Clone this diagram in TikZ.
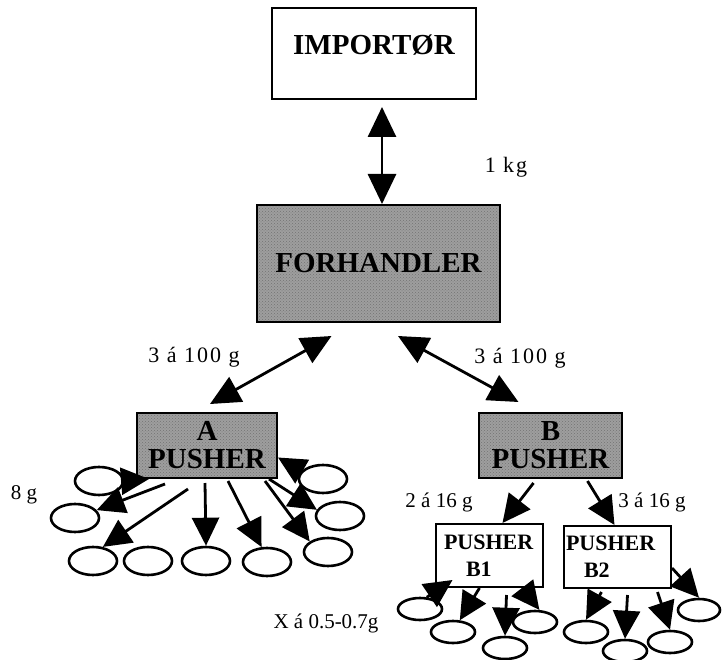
\documentclass[tikz,border=0pt]{standalone}
\usepackage{fontspec}
\setmainfont{Liberation Serif}
\usetikzlibrary{arrows.meta, patterns, shapes.geometric}

\begin{document}
\begin{tikzpicture}[x=1pt, y=-1pt,
        wbox/.style={draw, line width=2pt, inner sep=2pt, font=\fontsize{29}{30}\selectfont\bfseries},
        gbox/.style={draw, line width=2pt, inner sep=2pt, align=center, font=\fontsize{29}{28}\selectfont\bfseries,
            preaction={fill=black!38}, pattern=crosshatch dots, pattern color=black!55},
        egg/.style={draw, ellipse, line width=2.6pt, inner sep=0pt, minimum width=48pt, minimum height=28pt},
        smegg/.style={egg, minimum width=44pt, minimum height=22pt},
        lbl/.style={font=\fontsize{21}{24}\selectfont},
        widelbl/.style={font=\fontsize{22}{24}\selectfont\addfontfeature{LetterSpace=9}},
        arr/.style={line width=2.8pt, -{Triangle[length=28pt,width=27pt]}},
        dbl/.style={line width=2.8pt, {Triangle[length=30pt,width=28pt]}-{Triangle[length=30pt,width=28pt]}}]
        \useasboundingbox (0,0) rectangle (722,660);
        \node[wbox, minimum width=204pt, minimum height=91pt, text height=20pt, text depth=17pt] (imp) at (374,53.5) {IMPORTØR};
        \node[gbox, minimum width=243pt, minimum height=117pt] (fh) at (378.5,263.5) {FORHANDLER};
        \node[gbox, minimum width=140pt, minimum height=65pt] (A) at (207,445.5) {A\\PUSHER};
        \node[gbox, minimum width=143pt, minimum height=65pt] (B) at (550.5,445.5) {B\\PUSHER};
        \node[wbox, anchor=north west, minimum width=107pt, minimum height=63pt, inner xsep=0pt, text width=91pt, align=left, font=\fontsize{22}{27}\selectfont\bfseries] (B1) at (435,523) {PUSHER\\\hspace*{22pt}B1};
        \node[wbox, anchor=north west, minimum width=107pt, minimum height=62pt, inner xsep=0pt, text width=103pt, align=left, font=\fontsize{22}{27}\selectfont\bfseries] (B2) at (563,525) {PUSHER\\\hspace*{18pt}B2};

        \node[widelbl] (kg) at (506,167) {1 kg};
        \node[widelbl] (mL) at (194,357) {3 á 100 g};
        \node[widelbl] (mR) at (520,358) {3 á 100 g};
        \node[lbl] (eight) at (24,495) {8 g};
        \node[lbl] (sB1) at (439,502) {2 á 16 g};
        \node[lbl] (sB2) at (652,502) {3 á 16 g};
        \node[lbl] (xg) at (326,623) {X á 0.5-0.7g};

        \node[egg] (E1) at (99,481) {};
        \node[egg] (E2) at (75,518) {};
        \node[egg] (E3) at (93,561) {};
        \node[egg] (E4) at (148,561) {};
        \node[egg] (E5) at (206,561) {};
        \node[egg] (E6) at (267,562) {};
        \node[egg] (E7) at (328,552) {};
        \node[egg] (E8) at (340,516) {};
        \node[egg] (E9) at (323,479) {};

        \node[smegg] (F1) at (420,609) {};
        \node[smegg] (F2) at (453,632) {};
        \node[smegg] (F3) at (505,648) {};
        \node[smegg] (F4) at (535,622) {};
        \node[smegg] (G1) at (586,632) {};
        \node[smegg] (G2) at (625,651) {};
        \node[smegg] (G3) at (670,642) {};
        \node[smegg, minimum width=42pt] (G4) at (699,610) {};

        \draw[dbl] ([shift={(8pt,-7pt)}]imp.south) -- ([xshift=8pt]imp.south |- fh.north);
        \draw[dbl] ([shift={(-47pt,-13pt)}]fh.south) -- ([shift={(3pt,8pt)}]A.north);
        \draw[dbl] ([shift={(19.5pt,-13pt)}]fh.south) -- ([shift={(-32pt,10pt)}]B.north);
        \draw[arr] ([shift={(-17pt,-4pt)}]B.south) -- ([xshift=13pt]B1.north);
        \draw[arr] ([shift={(37pt,-2pt)}]B.south) -- ([xshift=-3pt]B2.north);

        \draw[arr] (E1.east) -- ([xshift=13pt]A.south west);
        \draw[arr] ([shift={(-42pt,-5pt)}]A.south) -- (E2.20);
        \draw[arr] ([shift={(-19pt,-10pt)}]A.south) -- (E3.55);
        \draw[arr] ([shift={(-2pt,-4pt)}]A.south) -- (E5.north);
        \draw[arr] ([shift={(21pt,-2pt)}]A.south) -- (E6.110);
        \draw[arr] ([shift={(58pt,-2pt)}]A.south) -- (E7.150);
        \draw[arr] ([xshift=62pt]A.south) -- (E8.165);
        \draw[arr] (E9.160) -- ([yshift=-12pt]A.east);

        \draw[arr] (F1.60) -- ([shift={(-37pt,8pt)}]B1.south);
        \draw[arr] ([xshift=-10pt]B1.south) -- (F2.60);
        \draw[arr] ([shift={(17pt,-7pt)}]B1.south) -- (F3.north);
        \draw[arr] ([xshift=33pt]B1.south) -- (F4.70);
        \draw[arr] ([shift={(-16pt,-3pt)}]B2.south) -- (G1.north);
        \draw[arr] ([shift={(10pt,-6pt)}]B2.south) -- (G2.north);
        \draw[arr] ([shift={(40pt,-3pt)}]B2.south) -- (G3.north);
        \draw[arr] ([yshift=-11pt]B2.east) -- (G4.north);
\end{tikzpicture}
\end{document}
